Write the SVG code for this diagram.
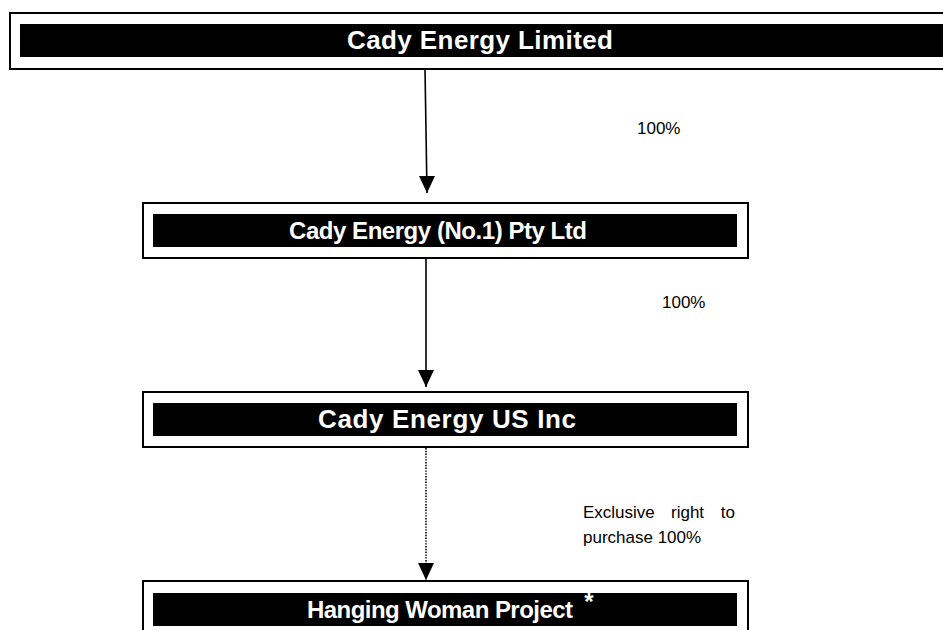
<svg xmlns="http://www.w3.org/2000/svg" width="943" height="630" viewBox="0 0 943 630">
  <style>
    .frame { fill: #fff; stroke: #000; stroke-width: 2; }
    .bar { fill: #000; }
    .title { fill: #fff; font-family: "Liberation Sans", Arial, sans-serif; font-weight: bold; font-size: 24px; text-anchor: middle; }
    .title.wide { font-size: 26px; }
    .label { fill: #000; font-family: "Liberation Sans", Arial, sans-serif; font-size: 17px; }
    .link { fill: none; stroke: #000; stroke-width: 1.6; }
    .dotted { stroke-dasharray: 1.4 1.4; }
  </style>
  <defs>
    <marker id="arrowDown" markerUnits="userSpaceOnUse" markerWidth="16" markerHeight="17" viewBox="0 0 16 17" refX="8" refY="17" orient="0">
      <path d="M0,0 L16,0 L8,17 Z" fill="#000"/>
    </marker>
  </defs>

  <g id="cady-energy-limited">
    <rect class="frame" x="10" y="13" width="950" height="56"/>
    <rect class="bar" x="20" y="24" width="940" height="33"/>
    <text class="title wide" x="480" y="49" textLength="266">Cady Energy Limited</text>
  </g>

  <g id="cady-energy-no1">
    <rect class="frame" x="143" y="203" width="605" height="55"/>
    <rect class="bar" x="153" y="214" width="584" height="33"/>
    <text class="title" x="438" y="239" textLength="298">Cady Energy (No.1) Pty Ltd</text>
  </g>

  <g id="cady-energy-us">
    <rect class="frame" x="143" y="392" width="605" height="55"/>
    <rect class="bar" x="153" y="403" width="584" height="33"/>
    <text class="title wide" x="447" y="428" textLength="258">Cady Energy US Inc</text>
  </g>

  <g id="hanging-woman-project">
    <rect class="frame" x="143" y="581" width="605" height="70"/>
    <rect class="bar" x="153" y="593" width="584" height="33"/>
    <text class="title" x="440" y="618" textLength="266">Hanging Woman Project</text>
    <text class="title" x="589" y="610" font-size="8">*</text>
  </g>

  <g id="connectors">
    <line class="link" x1="425" y1="69" x2="427" y2="193" marker-end="url(#arrowDown)"/>
    <line class="link" x1="426" y1="258" x2="426" y2="387" marker-end="url(#arrowDown)"/>
    <line class="link dotted" x1="426" y1="448" x2="426" y2="580" marker-end="url(#arrowDown)"/>
  </g>

  <g id="labels">
    <text class="label" x="637" y="134">100%</text>
    <text class="label" x="662" y="308">100%</text>
    <text class="label" y="518"><tspan x="583">Exclusive</tspan><tspan x="671">right</tspan><tspan x="735" text-anchor="end">to</tspan></text>
    <text class="label" x="583" y="543">purchase 100%</text>
  </g>
</svg>
